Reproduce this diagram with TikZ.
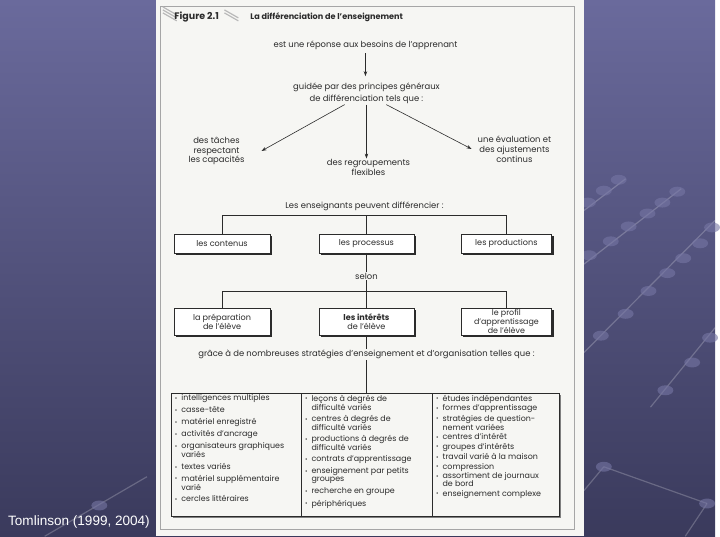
\documentclass[tikz,border=0pt]{standalone}
\usepackage{fontspec}
\setmainfont{Poppins}
\newfontfamily\arialfont{Liberation Sans}
\usetikzlibrary{positioning, arrows.meta, shadows}
\usepackage{xcolor}
\definecolor{fondhaut}{HTML}{6A6A9C}
\definecolor{fondbas}{HTML}{3A3A5C}
\definecolor{perle}{HTML}{7676A4}
\definecolor{papier}{HTML}{F6F6F3}
\definecolor{encre}{HTML}{2B2B2B}
\newcommand{\puce}{\makebox[6.5bp][l]{\raisebox{0.3bp}{\fontsize{6}{5}\selectfont\textbullet}}}
\newcommand{\suite}{\hspace*{6.5bp}}

\begin{document}
\begin{tikzpicture}[
        x=1bp, y=-1bp,
        every node/.style={text=encre, font=\fontsize{8.5}{10}\selectfont, inner sep=1bp, align=center},
        boite/.style={draw=encre, fill=white, minimum width=96bp, minimum height=19bp,
            font=\fontsize{8.2}{9.2}\selectfont,
            drop shadow={shadow xshift=2bp, shadow yshift=-2bp, fill=encre, opacity=1}},
        colonne/.style={draw=encre, fill=papier, minimum height=124bp, inner sep=0pt, anchor=north west,
            drop shadow={shadow xshift=1.5bp, shadow yshift=-1.5bp, fill=gray, opacity=1}},
        liste/.style={anchor=north west, align=left, inner sep=0pt},
        fleche/.style={draw=encre, line width=0.6bp, -{Stealth[length=5bp, width=3.5bp]}},
        trait/.style={draw=encre, line width=0.6bp}
    ]
        % Fond
        \shade[top color=fondhaut, bottom color=fondbas] (0,0) rectangle (720,540);
        \foreach \xa/\ya/\xb/\yb in {588/212/630/180, 588/266/686/190, 588/355/720/222, 655/410/720/330,
                45/540/148/480, 608/470/712/507, 712/507/690/540, 608/470/588/494}
            \draw[white, opacity=0.22, line width=1.2bp] (\xa,\ya) -- (\xb,\yb);
        \foreach \x/\y in {592/204, 608/192, 623/181, 593/257, 615/243, 633/228, 652/215, 667/204, 682/193,
                605/338, 630/316, 653/293, 672/275, 688/260, 705/245, 717/229, 670/393, 697/365, 715/340,
                100/509, 608/470, 712/507}
            \fill[perle, opacity=0.6] (\x,\y) ellipse (8bp and 5bp);

        % Page
        \fill[papier] (157,0) rectangle (588,540);
        \draw[gray!70, line width=0.8bp] (162,6) rectangle (578,533);
        \foreach \d in {0,3,6}
            \draw[gray!55, line width=1.2bp] (164,7+\d) -- (178,15+\d);
        \foreach \d in {0,3}
            \draw[gray!55, line width=1.2bp] (226,10+\d) -- (240,18+\d);

        % Titre
        \node[font=\bfseries\fontsize{9.6}{11}\selectfont] (figure) at (198,17) {Figure 2.1};
        \node[font=\bfseries\fontsize{8.2}{9}\selectfont, anchor=west] (titre) at (251,17)
            {La différenciation de l'enseignement};

        % Principes
        \node (besoins) at (368,46) {est une réponse aux besoins de l'apprenant};
        \node (principes) at (369,94) {guidée par des principes généraux\\[1.5bp]de différenciation tels que :};
        \node (taches) at (218,152) {des tâches\\respectant\\les capacités};
        \node (regroupements) at (371,169) {des regroupements\\flexibles};
        \node (evaluation) at (518,150) {une évaluation et\\des ajustements\\continus};

        \draw[fleche, shorten <=2bp, shorten >=6bp] (besoins.south) -- (besoins.south |- principes.north);
        \draw[fleche] ([xshift=-22bp]principes.south) -- ([xshift=16bp]taches.east);
        \draw[fleche] (principes.south) -- (principes.south |- regroupements.north);
        \draw[fleche] ([xshift=20bp]principes.south) -- ([xshift=-5bp]evaluation.west);

        % Ce qu'on différencie
        \node (enseignants) at (367,208) {Les enseignants peuvent différencier :};
        \node[boite] (processus) at (369,245) {les processus};
        \node[boite, left=49bp of processus] (contenus) {les contenus};
        \node[boite, minimum width=91bp, right=47bp of processus] (productions) {les productions};

        \coordinate (barre1) at (369,217);
        \draw[trait] (contenus.north) |- (barre1) -| (productions.north);
        \draw[trait] (barre1) -- (processus.north);

        % Selon
        \node (selon) at (369,278) {selon};
        \node[boite, minimum height=27bp] (interets) at (369,324) {\textbf{les intérêts}\\de l'élève};
        \node[boite, minimum height=27bp, left=49bp of interets] (preparation) {la préparation\\de l'élève};
        \node[boite, minimum height=27bp, minimum width=91bp, right=47bp of interets, font=\fontsize{8}{8.4}\selectfont] (profil)
            {le profil\\d'apprentissage\\de l'élève};

        \coordinate (barre2) at (369,293);
        \draw[trait] (processus.south) -- (selon.north);
        \draw[trait] (selon.south) -- (barre2);
        \draw[trait] (preparation.north) |- (barre2) -| (profil.north);
        \draw[trait] (barre2) -- (interets.north);

        % Stratégies
        \node (graces) at (369,357) {grâce à de nombreuses stratégies d'enseignement et d'organisation telles que :};
        \node[colonne, minimum width=131bp] (colA) at (172,396) {};
        \node[colonne, minimum width=132bp] (colB) at (303,396) {};
        \node[colonne, minimum width=128bp] (colC) at (435,396) {};
        \draw[trait] (interets.south) -- (graces.north);
        \draw[trait] (graces.south) -- (graces.south |- colB.north);

        \node[liste, font=\fontsize{8}{9}\selectfont] (listeA) at ([xshift=4bp, yshift=-1.5bp]colA.north west) {%
            \puce intelligences multiples\\[3bp]
            \puce casse-tête\\[3bp]
            \puce matériel enregistré\\[3bp]
            \puce activités d'ancrage\\[3bp]
            \puce organisateurs graphiques\\
            \suite variés\\[3bp]
            \puce textes variés\\[3bp]
            \puce matériel supplémentaire\\
            \suite varié\\[3bp]
            \puce cercles littéraires};
        \node[liste, font=\fontsize{8}{8}\selectfont] (listeB) at ([xshift=4bp, yshift=-1.5bp]colB.north west) {%
            \puce leçons à degrés de\\
            \suite difficulté variés\\[3bp]
            \puce centres à degrés de\\
            \suite difficulté variés\\[3bp]
            \puce productions à degrés de\\
            \suite difficulté variés\\[3bp]
            \puce contrats d'apprentissage\\[3bp]
            \puce enseignement par petits\\
            \suite groupes\\[3bp]
            \puce recherche en groupe\\[3bp]
            \puce périphériques};
        \node[liste, font=\fontsize{8}{8.3}\selectfont] (listeC) at ([xshift=4bp, yshift=-1.5bp]colC.north west) {%
            \puce études indépendantes\\[1.2bp]
            \puce formes d'apprentissage\\[1.2bp]
            \puce stratégies de question-\\
            \suite nement variées\\[1.2bp]
            \puce centres d'intérêt\\[1.2bp]
            \puce groupes d'intérêts\\[1.2bp]
            \puce travail varié à la maison\\[1.2bp]
            \puce compression\\[1.2bp]
            \puce assortiment de journaux\\
            \suite de bord\\[1.2bp]
            \puce enseignement complexe};

        % Source
        \node[text=white, font=\arialfont\fontsize{13.7}{16}\selectfont, anchor=base west, inner sep=0pt]
            (source) at (8,529) {Tomlinson (1999, 2004)};
    \end{tikzpicture}
\end{document}
